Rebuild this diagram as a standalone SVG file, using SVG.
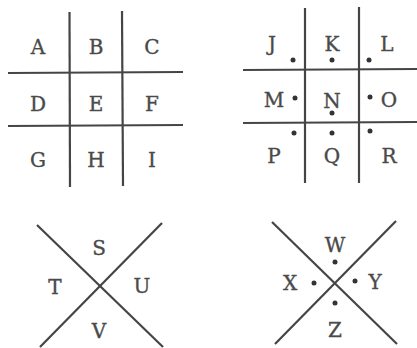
<svg xmlns="http://www.w3.org/2000/svg" width="417" height="348" viewBox="0 0 417 348">
<style>
.ln{stroke:#454545;stroke-width:2.2;fill:none;stroke-linecap:butt}
.t{font-family:"DejaVu Serif","Liberation Serif",serif;font-size:20px;fill:#4a4a4a;stroke:#4a4a4a;stroke-width:0.35;text-anchor:middle}
.d{fill:#333333}
</style>
<rect width="417" height="348" fill="#ffffff"/>
<g id="connectors">
<line class="ln" x1="69.5" y1="12" x2="70" y2="187"/>
<line class="ln" x1="122" y1="11" x2="123" y2="186"/>
<line class="ln" x1="8" y1="73" x2="183" y2="72"/>
<line class="ln" x1="8" y1="126" x2="183" y2="125"/>
<line class="ln" x1="305" y1="8" x2="305" y2="183"/>
<line class="ln" x1="359" y1="7" x2="359" y2="183"/>
<line class="ln" x1="243" y1="70" x2="417" y2="69"/>
<line class="ln" x1="243" y1="123" x2="417" y2="122"/>
<line class="ln" x1="37" y1="225" x2="163" y2="347"/>
<line class="ln" x1="162" y1="223" x2="40" y2="347"/>
<line class="ln" x1="272" y1="222" x2="397" y2="344"/>
<line class="ln" x1="396" y1="221" x2="275" y2="344"/>
</g>
<g id="grid1">
<text class="t" x="38" y="54">A</text>
<text class="t" x="96" y="54">B</text>
<text class="t" x="152" y="54">C</text>
<text class="t" x="38" y="111">D</text>
<text class="t" x="96" y="111">E</text>
<text class="t" x="152" y="111">F</text>
<text class="t" x="38" y="167">G</text>
<text class="t" x="96" y="167">H</text>
<text class="t" x="152" y="167">I</text>
</g>
<g id="grid2">
<text class="t" x="272" y="51">J</text>
<text class="t" x="332" y="51">K</text>
<text class="t" x="387" y="51">L</text>
<text class="t" x="274" y="107">M</text>
<text class="t" x="332" y="108">N</text>
<text class="t" x="389" y="107">O</text>
<text class="t" x="274" y="163">P</text>
<text class="t" x="332" y="163">Q</text>
<text class="t" x="389" y="163">R</text>
<circle class="d" cx="293" cy="60" r="2.5"/>
<circle class="d" cx="332" cy="60" r="2.5"/>
<circle class="d" cx="369" cy="60" r="2.5"/>
<circle class="d" cx="295" cy="98" r="2.5"/>
<circle class="d" cx="332" cy="113" r="2.5"/>
<circle class="d" cx="370" cy="97" r="2.5"/>
<circle class="d" cx="294" cy="133" r="2.5"/>
<circle class="d" cx="332" cy="133" r="2.5"/>
<circle class="d" cx="370" cy="131" r="2.5"/>
</g>
<g id="x1">
<text class="t" x="99" y="255">S</text>
<text class="t" x="55" y="294">T</text>
<text class="t" x="142" y="293">U</text>
<text class="t" x="99" y="338">V</text>
</g>
<g id="x2">
<text class="t" x="335" y="252">W</text>
<text class="t" x="290" y="290">X</text>
<text class="t" x="375" y="289">Y</text>
<text class="t" x="335" y="337">Z</text>
<circle class="d" cx="335" cy="262" r="2.5"/>
<circle class="d" cx="314" cy="283" r="2.5"/>
<circle class="d" cx="355" cy="281" r="2.5"/>
<circle class="d" cx="335" cy="303" r="2.5"/>
</g>
</svg>
